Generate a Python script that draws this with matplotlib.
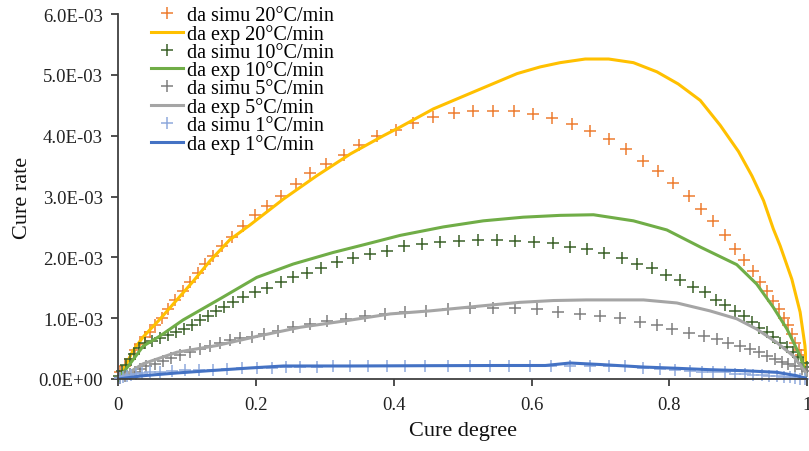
import numpy as np
import matplotlib.pyplot as plt
from matplotlib.ticker import FuncFormatter

plt.rcParams['font.family'] = ['Liberation Serif', 'DejaVu Serif']

# da simu 20 C/min
simu20_x = [0.0025, 0.0097, 0.017, 0.024, 0.0315, 0.039, 0.046, 0.053, 0.063, 0.0726,
            0.083, 0.094, 0.104, 0.115, 0.126, 0.137, 0.150, 0.165, 0.181, 0.199,
            0.216, 0.236, 0.258, 0.279, 0.302, 0.327, 0.350, 0.376, 0.403, 0.428,
            0.4575, 0.487, 0.515, 0.544, 0.574, 0.602, 0.630, 0.6585, 0.6855, 0.712,
            0.737, 0.762, 0.784, 0.806, 0.828, 0.846, 0.864, 0.881, 0.895, 0.909,
            0.921, 0.932, 0.942, 0.951, 0.959, 0.966, 0.972, 0.978, 0.983, 0.988, 0.992]
simu20_y = [0.11, 0.22, 0.33, 0.47, 0.58, 0.69, 0.77, 0.88, 1.01, 1.15,
            1.30, 1.45, 1.59, 1.74, 1.89, 2.03, 2.18, 2.34, 2.51, 2.69,
            2.85, 3.01, 3.20, 3.38, 3.54, 3.68, 3.85, 3.99, 4.10, 4.21,
            4.30, 4.37, 4.40, 4.40, 4.40, 4.36, 4.29, 4.19, 4.08, 3.95,
            3.78, 3.59, 3.42, 3.22, 3.01, 2.80, 2.59, 2.36, 2.14, 1.95,
            1.77, 1.60, 1.44, 1.29, 1.15, 1.01, 0.88, 0.74, 0.60, 0.47, 0.39]

# da exp 20 C/min
exp20_x = [0, 0.0097, 0.021, 0.036, 0.061, 0.085, 0.109, 0.133, 0.162, 0.191,
           0.240, 0.288, 0.337, 0.385, 0.409, 0.4575, 0.516, 0.579, 0.6125, 0.6415,
           0.678, 0.712, 0.748, 0.782, 0.813, 0.845, 0.874, 0.9005, 0.920, 0.937,
           0.951, 0.961, 0.978, 0.990, 0.997, 1.0]
exp20_y = [0, 0.20, 0.46, 0.69, 0.99, 1.30, 1.61, 1.94, 2.29, 2.53,
           2.96, 3.34, 3.70, 4.00, 4.14, 4.44, 4.72, 5.02, 5.13, 5.20,
           5.26, 5.26, 5.20, 5.05, 4.85, 4.58, 4.17, 3.74, 3.34, 2.93,
           2.47, 2.19, 1.64, 1.10, 0.55, 0.06]

# da simu 10 C/min
simu10_x = [0.001, 0.0054, 0.0112, 0.017, 0.0228, 0.0301, 0.0388, 0.0489, 0.0605, 0.0722,
            0.0838, 0.0954, 0.107, 0.1187, 0.1303, 0.1419, 0.1535, 0.1666, 0.1811, 0.1985,
            0.2164, 0.2359, 0.2533, 0.2736, 0.294, 0.3181, 0.3413, 0.3656, 0.3898, 0.415,
            0.4407, 0.4671, 0.4953, 0.5229, 0.5496, 0.5762, 0.6042, 0.631, 0.656, 0.6812,
            0.7059, 0.7311, 0.7529, 0.7747, 0.7955, 0.816, 0.8351, 0.8521, 0.8681, 0.8812,
            0.8957, 0.9078, 0.92, 0.931, 0.9418, 0.9513, 0.961, 0.9708, 0.9795, 0.9868,
            0.994, 0.9998]
simu10_y = [0.05, 0.13, 0.23, 0.33, 0.41, 0.51, 0.59, 0.63, 0.67, 0.72,
            0.77, 0.83, 0.89, 0.97, 1.04, 1.11, 1.18, 1.26, 1.34, 1.43,
            1.50, 1.60, 1.67, 1.75, 1.83, 1.92, 1.99, 2.06, 2.11, 2.18,
            2.22, 2.25, 2.27, 2.29, 2.29, 2.27, 2.26, 2.24, 2.17, 2.13,
            2.07, 1.99, 1.89, 1.82, 1.71, 1.62, 1.51, 1.43, 1.30, 1.21,
            1.11, 1.03, 0.93, 0.84, 0.77, 0.69, 0.60, 0.52, 0.44, 0.36,
            0.27, 0.19]

# da exp 10 C/min
exp10_x = [0, 0.017, 0.036, 0.061, 0.094, 0.148, 0.201, 0.254, 0.312, 0.361,
           0.409, 0.472, 0.530, 0.588, 0.6415, 0.690, 0.748, 0.7965, 0.845, 0.898,
           0.927, 0.951, 0.971, 0.990, 1.0]
exp10_y = [0, 0.25, 0.54, 0.71, 0.97, 1.32, 1.67, 1.89, 2.08, 2.22,
           2.36, 2.50, 2.60, 2.66, 2.69, 2.70, 2.60, 2.45, 2.17, 1.88,
           1.56, 1.18, 0.82, 0.38, 0.03]

# da simu 5 C/min
simu5_x = [0.0025, 0.0097, 0.017, 0.024, 0.0315, 0.040, 0.053, 0.065, 0.0765, 0.0896,
           0.104, 0.119, 0.133, 0.148, 0.162, 0.177, 0.194, 0.212, 0.232, 0.254,
           0.278, 0.3036, 0.331, 0.358, 0.387, 0.416, 0.447, 0.479, 0.511, 0.544,
           0.576, 0.608, 0.638, 0.671, 0.700, 0.729, 0.758, 0.782, 0.804, 0.828,
           0.850, 0.869, 0.886, 0.903, 0.917, 0.930, 0.942, 0.954, 0.9635, 0.973,
           0.983, 0.9926, 1.0]
simu5_y = [0.02, 0.05, 0.08, 0.12, 0.16, 0.21, 0.25, 0.30, 0.35, 0.39,
           0.45, 0.50, 0.55, 0.60, 0.64, 0.67, 0.69, 0.74, 0.79, 0.86,
           0.90, 0.95, 0.99, 1.03, 1.07, 1.10, 1.12, 1.15, 1.16, 1.16,
           1.16, 1.15, 1.10, 1.07, 1.04, 1.00, 0.94, 0.89, 0.83, 0.76,
           0.71, 0.66, 0.60, 0.55, 0.49, 0.44, 0.38, 0.33, 0.28, 0.25,
           0.21, 0.16, 0.13]

# da exp 5 C/min
exp5_x = [0, 0.036, 0.085, 0.143, 0.201, 0.264, 0.332, 0.395, 0.453, 0.535,
          0.583, 0.632, 0.680, 0.729, 0.7625, 0.811, 0.859, 0.898, 0.927, 0.956,
          0.980, 1.0]
exp5_y = [0, 0.25, 0.44, 0.55, 0.70, 0.85, 0.96, 1.07, 1.12, 1.21,
          1.26, 1.29, 1.30, 1.30, 1.30, 1.25, 1.12, 0.99, 0.82, 0.60,
          0.38, 0.08]

# da simu 1 C/min
simu1_x = [0.0025, 0.007, 0.0126, 0.018, 0.0257, 0.0345, 0.046, 0.0606, 0.078, 0.0969,
           0.117, 0.1376, 0.158, 0.1797, 0.201, 0.2228, 0.2432, 0.264, 0.288, 0.312,
           0.337, 0.363, 0.390, 0.416, 0.445, 0.479, 0.510, 0.540, 0.568, 0.598,
           0.628, 0.656, 0.685, 0.713, 0.736, 0.7625, 0.787, 0.809, 0.830, 0.847,
           0.864, 0.881, 0.896, 0.910, 0.922, 0.9345, 0.9455, 0.956, 0.966, 0.9755,
           0.983, 0.990, 0.997]
simu1_y = [0.016, 0.033, 0.049, 0.066, 0.082, 0.099, 0.115, 0.123, 0.132, 0.140,
           0.148, 0.156, 0.164, 0.173, 0.181, 0.189, 0.192, 0.197, 0.202, 0.206,
           0.209, 0.214, 0.214, 0.214, 0.217, 0.219, 0.219, 0.219, 0.219, 0.219,
           0.219, 0.219, 0.214, 0.214, 0.206, 0.181, 0.164, 0.148, 0.137, 0.123,
           0.110, 0.107, 0.082, 0.082, 0.066, 0.058, 0.054, 0.044, 0.033, 0.028,
           0.016, 0.008, 0.008]

# da exp 1 C/min
exp1_x = [0, 0.036, 0.085, 0.133, 0.191, 0.240, 0.337, 0.453, 0.554, 0.620,
          0.656, 0.700, 0.762, 0.811, 0.859, 0.907, 0.956, 0.985, 1.0]
exp1_y = [0, 0.054, 0.099, 0.137, 0.181, 0.214, 0.214, 0.219, 0.222, 0.222,
          0.263, 0.238, 0.197, 0.176, 0.153, 0.137, 0.110, 0.054, 0.008]

series = [
    ('da simu 20°C/min', simu20_x, simu20_y, '#ED7D31', 'simu'),
    ('da exp 20°C/min', exp20_x, exp20_y, '#FFC000', 'exp'),
    ('da simu 10°C/min', simu10_x, simu10_y, '#3B6128', 'simu'),
    ('da exp 10°C/min', exp10_x, exp10_y, '#70AD47', 'exp'),
    ('da simu 5°C/min', simu5_x, simu5_y, '#7F7F7F', 'simu'),
    ('da exp 5°C/min', exp5_x, exp5_y, '#A5A5A5', 'exp'),
    ('da simu 1°C/min', simu1_x, simu1_y, '#8FAADC', 'simu'),
    ('da exp 1°C/min', exp1_x, exp1_y, '#4472C4', 'exp'),
]

fig = plt.figure(figsize=(8.09, 4.52), dpi=100)
ax = fig.add_axes([118.3 / 809, 1 - 380 / 452, (807 - 118.3) / 809, (380 - 15) / 452])

for label, xs, ys, color, kind in series:
    ys = np.array(ys) * 1e-3
    if kind == 'simu':
        ax.plot(xs, ys, linestyle='none', marker='+', markersize=8, markeredgewidth=1.1,
                color=color, label=label, clip_on=False)
    else:
        ax.plot(xs, ys, color=color, linewidth=2.2, label=label)

ax.set_xlim(0, 1)
ax.set_ylim(0, 6e-3)
ax.set_xticks([0, 0.2, 0.4, 0.6, 0.8, 1])
ax.set_yticks(np.arange(0, 6.01e-3, 1e-3))
ax.xaxis.set_major_formatter(FuncFormatter(lambda v, p: f'{v:g}'))
ax.yaxis.set_major_formatter(FuncFormatter(lambda v, p: f'{v:.1E}'))

for side in ['top', 'right']:
    ax.spines[side].set_visible(False)
for side in ['left', 'bottom']:
    ax.spines[side].set_color('#404040')
    ax.spines[side].set_linewidth(1.3)
ax.tick_params(axis='both', colors='#404040', labelcolor='#222222', labelsize=13.5,
               length=5, width=1.3, direction='out')
ax.tick_params(axis='y', pad=6)
ax.tick_params(axis='x', pad=7)

ax.set_xlabel('Cure degree', fontsize=16, color='#111111', labelpad=6)
ax.set_ylabel('Cure rate', fontsize=16, color='#111111', labelpad=5)

ax.legend(loc='upper left', bbox_to_anchor=(151 / 809, 1 - 7 / 452), bbox_transform=fig.transFigure,
          frameon=False, fontsize=14.5, labelspacing=-0.06, handlelength=1.6, handletextpad=0.2,
          borderpad=0, borderaxespad=0)

fig.savefig('out.png', dpi=100)
